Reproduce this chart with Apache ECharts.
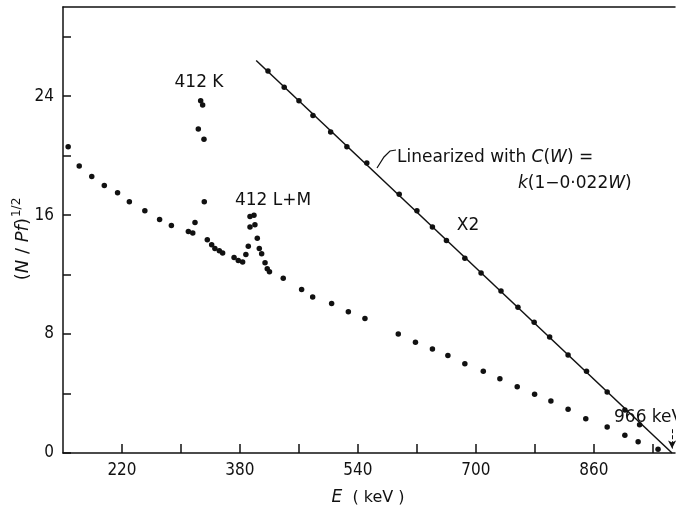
<!DOCTYPE html>
<html>
<head>
<meta charset="utf-8">
<script src="https://cdn.jsdelivr.net/npm/echarts@6/dist/echarts.min.js"></script>
<style>
    html, body { margin: 0; padding: 0; background: #fff; }
    #chart { width: 676px; height: 511px; }
</style>
</head>
<body>
<div id="chart"></div>
<script>
// measured spectrum (lower dots)
var lowE = [147, 162, 179, 196, 214, 230, 251, 271, 287, 310, 316, 319, 323.5, 326.7, 329.4, 331.2, 331.6,
    335.7, 341.6, 346, 352, 356.5, 372, 377.7, 383.6, 388, 391.3, 393.6, 400.3, 393.6, 399, 403.5, 406.2,
    409.4, 414, 417, 420, 438.7, 463.6, 478.6, 504.3, 527, 549.5, 594.7, 618, 641, 662, 685, 710, 732.5,
    756, 779.6, 801.7, 825, 849, 878, 902, 920, 947];
var lowY = [20.6, 19.3, 18.6, 18.0, 17.5, 16.9, 16.3, 15.7, 15.3, 14.9, 14.8, 15.5, 21.8, 23.7, 23.4, 21.1, 16.9,
    14.35, 14.0, 13.75, 13.6, 13.45, 13.15, 12.95, 12.85, 13.35, 13.9, 15.2, 15.35, 15.9, 16.0, 14.45, 13.75,
    13.4, 12.8, 12.4, 12.2, 11.75, 11.0, 10.5, 10.05, 9.5, 9.05, 8.0, 7.45, 7.0, 6.55, 6.0, 5.5, 5.0,
    4.45, 3.95, 3.5, 2.95, 2.3, 1.75, 1.2, 0.75, 0.25];

// linearized points (x2)
var x2E = [418, 440, 460, 479, 503, 525, 552, 596, 620, 641, 660, 685, 707, 734, 757, 779, 800, 825, 850, 878, 902, 922];
var x2Y = [25.7, 24.6, 23.7, 22.7, 21.6, 20.6, 19.5, 17.4, 16.3, 15.2, 14.3, 13.1, 12.1, 10.9, 9.8, 8.8, 7.8, 6.6, 5.5, 4.1, 2.9, 1.9];

// fitted straight line
var fitE = [402, 966];
var fitY = [26.4, 0];

var xTicks = [220, 300, 380, 460, 540, 620, 700, 780, 860, 940];
var xLabels = [220, 380, 540, 700, 860];
var yTicks = [0, 4, 8, 12, 16, 20, 24, 28];
var yLabels = [0, 8, 16, 24];

function zip(a, b) {
    return a.map(function (v, i) { return [v, b[i]]; });
}

var font = "'DejaVu Sans', sans-serif";
var numFont = "'DejaVu Sans Condensed', 'DejaVu Sans', sans-serif";
var ink = '#111';

var chart = echarts.init(document.getElementById('chart'));
chart.setOption({
    backgroundColor: '#fff',
    animation: false,
    grid: { left: 63, top: 7, right: 1, bottom: 58 },
    xAxis: [{
        type: 'value',
        min: 140,
        max: 970,
        axisLine: { lineStyle: { color: ink, width: 1.5 } },
        splitLine: { show: false },
        axisTick: { inside: true, length: 9, customValues: xTicks, lineStyle: { color: ink, width: 1.5 } },
        axisLabel: { customValues: xLabels, color: ink, fontSize: 17, fontFamily: numFont, margin: 9 }
    }, {
        type: 'value',
        position: 'top',
        min: 140,
        max: 970,
        axisLine: { show: true, lineStyle: { color: ink, width: 1.5 } },
        axisTick: { show: false },
        axisLabel: { show: false },
        splitLine: { show: false }
    }],
    yAxis: {
        type: 'value',
        min: 0,
        max: 30,
        axisLine: { show: true, lineStyle: { color: ink, width: 1.5 } },
        splitLine: { show: false },
        axisTick: { show: true, inside: true, length: 8, customValues: yTicks, lineStyle: { color: ink, width: 1.5 } },
        axisLabel: { customValues: yLabels, color: ink, fontSize: 17, fontFamily: numFont, margin: 9 }
    },
    series: [{
        name: 'spectrum',
        type: 'scatter',
        data: zip(lowE, lowY),
        symbol: 'circle',
        symbolSize: 5.5,
        itemStyle: { color: ink, opacity: 1 }
    }, {
        name: 'linearized',
        type: 'scatter',
        data: zip(x2E, x2Y),
        symbol: 'circle',
        symbolSize: 5.5,
        itemStyle: { color: ink, opacity: 1 }
    }, {
        name: 'fit',
        type: 'line',
        data: zip(fitE, fitY),
        showSymbol: false,
        lineStyle: { color: ink, width: 1.5 },
        markLine: {
            silent: true,
            symbol: ['none', 'arrow'],
            symbolSize: [6, 8],
            label: { show: false },
            lineStyle: { color: ink, width: 1, type: 'dashed' },
            data: [[{ coord: [966, 1.6] }, { coord: [966, 0.3] }]]
        }
    }],
    graphic: [{
        type: 'text', x: 199, y: 83,
        style: { text: '412 K', font: '17px ' + font, fill: ink, align: 'center', verticalAlign: 'middle' }
    }, {
        type: 'text', x: 273, y: 201,
        style: { text: '412 L+M', font: '17px ' + font, fill: ink, align: 'center', verticalAlign: 'middle' }
    }, {
        type: 'text', x: 468, y: 226,
        style: { text: 'X2', font: '17px ' + font, fill: ink, align: 'center', verticalAlign: 'middle' }
    }, {
        type: 'text', x: 397, y: 158,
        style: {
            text: '{n|Linearized with }{i|C}{n|(}{i|W}{n|) =}',
            fill: ink, verticalAlign: 'middle',
            rich: {
                n: { fontSize: 17, fontFamily: font, fill: ink },
                i: { fontSize: 17, fontFamily: font, fontStyle: 'italic', fill: ink }
            }
        }
    }, {
        type: 'text', x: 518, y: 184,
        style: {
            text: '{i|k}{n|(1−0·022}{i|W}{n|)}',
            fill: ink, verticalAlign: 'middle',
            rich: {
                n: { fontSize: 17, fontFamily: font, fill: ink },
                i: { fontSize: 17, fontFamily: font, fontStyle: 'italic', fill: ink }
            }
        }
    }, {
        type: 'polyline',
        shape: { points: [[377, 168], [384, 157], [390, 151], [396, 150]] },
        style: { stroke: ink, lineWidth: 1.2, fill: null }
    }, {
        type: 'text', x: 614, y: 418,
        style: { text: '966 keV', font: '17px ' + font, fill: ink, verticalAlign: 'middle' }
    }, {
        type: 'text', x: 368, y: 498,
        style: {
            text: '{i|E}{n|  ( keV )}',
            fill: ink, align: 'center', verticalAlign: 'middle',
            rich: {
                n: { fontSize: 16, fontFamily: font, fill: ink },
                i: { fontSize: 17, fontFamily: font, fontStyle: 'italic', fill: ink }
            }
        }
    }, {
        type: 'text', x: 23, y: 239, rotation: Math.PI / 2,
        style: {
            text: '{n|(}{i|N}{n| / }{i|Pf}{n|)}{s|1/2}',
            fill: ink, align: 'center', verticalAlign: 'middle',
            rich: {
                n: { fontSize: 18, fontFamily: font, fill: ink },
                i: { fontSize: 18, fontFamily: font, fontStyle: 'italic', fill: ink },
                s: { fontSize: 12, fontFamily: font, fill: ink, verticalAlign: 'top', padding: [0, 0, 12, 1] }
            }
        }
    }]
});
</script>
</body>
</html>
